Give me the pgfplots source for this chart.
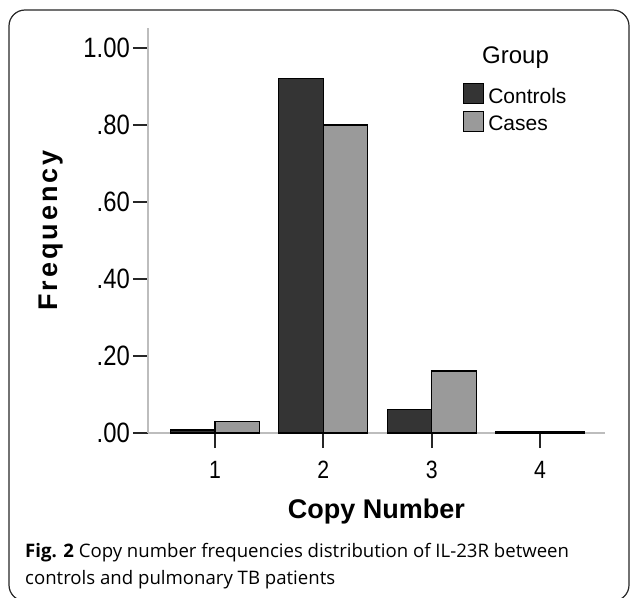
\documentclass[border=0pt]{standalone}
\usepackage{pgfplots}
\pgfplotsset{compat=1.18}
\usepackage{fontspec}
\setmainfont{Liberation Sans}
\newfontfamily\chartfont{Liberation Sans}
\newfontfamily\tickfont{Liberation Sans}[FakeStretch=0.85]
\newfontfamily\freqfont{Liberation Sans}[LetterSpace=11]
\newfontfamily\capfont{Open Sans}
\definecolor{ctrl}{HTML}{343434}
\definecolor{cases}{HTML}{9A9A9A}
\definecolor{axgray}{HTML}{BDBDBD}

\pgfplotsset{
  sq legend/.style={legend image code/.code={%
    \draw[##1, line width=1.2bp] (0bp,-7.5bp) rectangle (20bp,12.5bp);}},
}

\begin{document}
\begin{tikzpicture}
\useasboundingbox (0,0) rectangle (630bp,-598bp);
\draw[black!85, line width=1.2bp, rounded corners=16bp] (9bp,-10bp) rectangle (629bp,-601bp);

\begin{axis}[
  at={(148bp,-433bp)}, anchor=south west,
  scale only axis, width=457bp, height=405bp,
  xmin=0.381, xmax=4.6, ymin=0, ymax=1.052,
  axis x line*=bottom, axis y line*=left,
  axis line style={draw=axgray, line width=2bp, -},
  ybar=0pt, bar width=44.5bp,
  xtick={1,2,3,4}, xticklabels={1,2,3,4},
  ytick={0,0.2,0.4,0.6,0.8,1}, yticklabels={.00,.20,.40,.60,.80,1.00},
  tick align=outside, major tick length=15bp,
  tick style={black!85, line width=2bp},
  yticklabel style={font=\tickfont\fontsize{28bp}{30bp}\selectfont, inner sep=0pt, xshift=-3bp},
  xticklabel style={font=\tickfont\fontsize{25bp}{30bp}\selectfont, inner sep=0pt, yshift=-13bp},
  xlabel={Copy Number}, ylabel={Frequency},
  xlabel style={at={(axis description cs:0.5,0)}, anchor=base, yshift=-85bp, inner sep=0pt,
    font=\chartfont\bfseries\fontsize{27bp}{30bp}\selectfont},
  ylabel style={at={(axis description cs:0,0.5)}, anchor=base, yshift=91bp, inner sep=0pt,
    font=\freqfont\bfseries\fontsize{27bp}{30bp}\selectfont},
  legend style={at={(0.689,0.864)}, anchor=north west, draw=none, fill=none,
    inner sep=0pt, row sep=6bp, column sep=4bp,
    font=\chartfont\fontsize{21bp}{24bp}\selectfont,
    nodes={inner sep=0pt}},
  legend cell align=left,
]
\addplot[draw=black, fill=ctrl, line width=1.2bp, sq legend]
  coordinates {(1,0.008) (2,0.921) (3,0.062) (4,0.003)};
\addplot[draw=black, fill=cases, line width=1.2bp, sq legend]
  coordinates {(1,0.029) (2,0.800) (3,0.161) (4,0.003)};
\legend{Controls, Cases}
\end{axis}

\node[anchor=base west, inner sep=0pt, font=\chartfont\fontsize{24bp}{28bp}\selectfont]
  at (482bp,-63bp) {Group};

\node[anchor=base west, inner sep=0pt, font=\capfont\fontsize{18.6bp}{20bp}\selectfont]
  at (25bp,-557bp) {\textbf{Fig. 2} Copy number frequencies distribution of IL-23R between};
\node[anchor=base west, inner sep=0pt, font=\capfont\fontsize{18.6bp}{20bp}\selectfont]
  at (25bp,-584bp) {controls and pulmonary TB patients};
\end{tikzpicture}
\end{document}
